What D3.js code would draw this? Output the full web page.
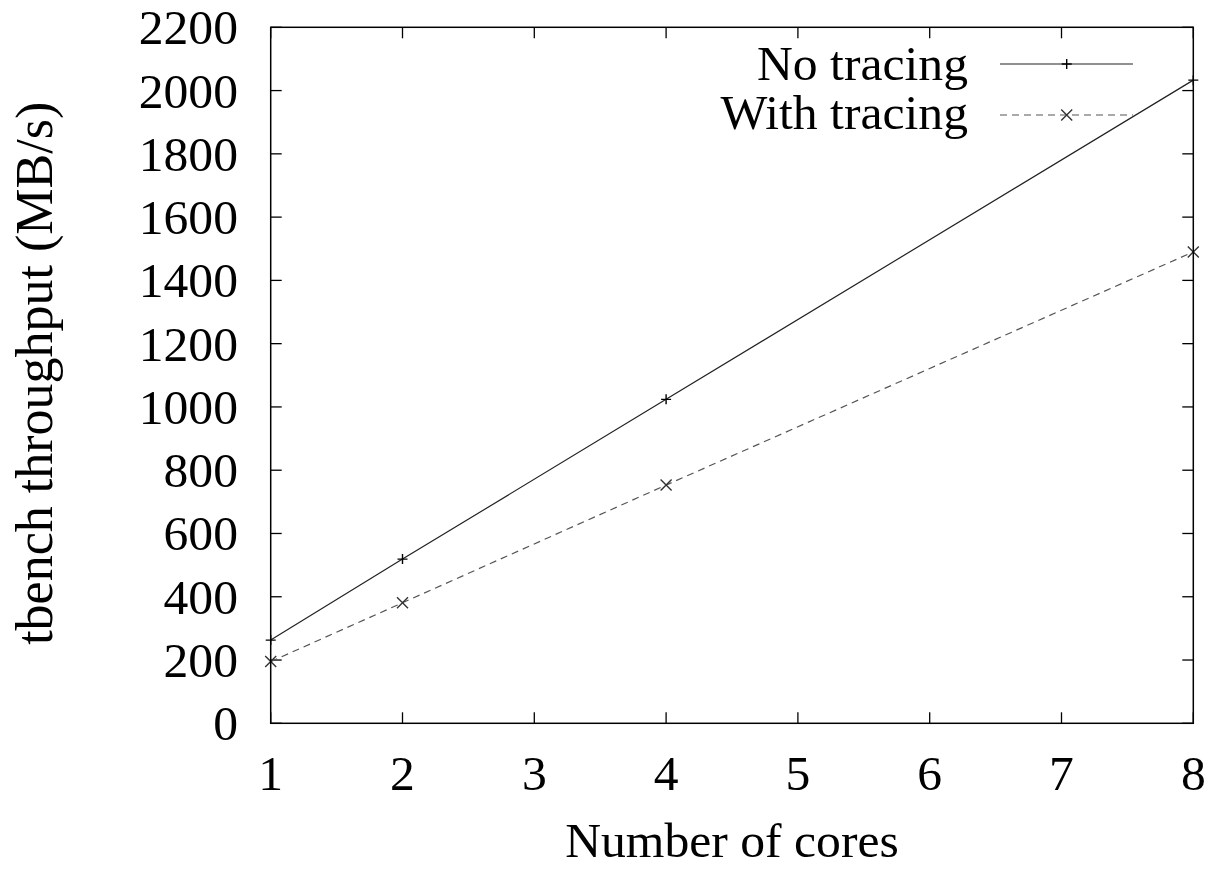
<!DOCTYPE html>
<html><head><meta charset="utf-8">
<script src="https://cdn.jsdelivr.net/npm/d3@7"></script>
<style>html,body{margin:0;padding:0;background:#fff;}svg{display:block;}</style>
</head><body>
<svg id="c" width="1213" height="869"></svg>
<script>
const cores = [1, 2, 4, 8];
const noTracing = [263, 519, 1024, 2033];
const withTracing = [195, 381, 753, 1490];
const seriesNames = ["No tracing", "With tracing"];
const xTicks = [1, 2, 3, 4, 5, 6, 7, 8];
const yTicks = [0, 200, 400, 600, 800, 1000, 1200, 1400, 1600, 1800, 2000, 2200];
const xTitle = "Number of cores";
const yTitle = "tbench throughput (MB/s)";

const svg = d3.select("#c");
const L = 270.7, R = 1193.3, T = 27.3, B = 723.3;
const x = d3.scaleLinear().domain([1, 8]).range([L, R]);
const y = d3.scaleLinear().domain([0, 2200]).range([B, T]);
const font = "'Liberation Serif','Times New Roman',serif";
const fs = 48;
const sx = 1.035;

function stext(g, tx, ty, str, anchor) {
  return g.append("text")
    .attr("transform", `translate(${tx},${ty}) scale(${sx},1)`)
    .attr("text-anchor", anchor)
    .attr("font-family", font).attr("font-size", fs).attr("fill", "#000")
    .text(str);
}

// ticks (inward, mirrored)
const tl = 11;
const tg = svg.append("g").attr("stroke", "#000").attr("stroke-width", 1.3);
xTicks.forEach(v => {
  tg.append("line").attr("x1", x(v)).attr("x2", x(v)).attr("y1", B).attr("y2", B - tl);
  tg.append("line").attr("x1", x(v)).attr("x2", x(v)).attr("y1", T).attr("y2", T + tl);
});
yTicks.forEach(v => {
  tg.append("line").attr("x1", L).attr("x2", L + tl).attr("y1", y(v)).attr("y2", y(v));
  tg.append("line").attr("x1", R).attr("x2", R - tl).attr("y1", y(v)).attr("y2", y(v));
});

// tick labels
const lg = svg.append("g");
yTicks.forEach(v => stext(lg, 238, y(v) + 17, String(v), "end"));
xTicks.forEach(v => stext(lg, x(v), 790, String(v), "middle"));

// axis titles
stext(lg, (L + R) / 2, 857, xTitle, "middle");
lg.append("text")
  .attr("transform", `translate(52,${(T + B) / 2 - 2}) rotate(-90)`)
  .attr("text-anchor", "middle")
  .attr("font-family", font).attr("font-size", 52).attr("fill", "#000")
  .text(yTitle);

// series
const line = d3.line().x(d => x(d[0])).y(d => y(d[1]));
const s1 = cores.map((c, i) => [c, noTracing[i]]);
const s2 = cores.map((c, i) => [c, withTracing[i]]);
const plot = svg.append("g");
plot.append("path").datum(s1).attr("d", line).attr("fill", "none").attr("stroke", "#222").attr("stroke-width", 1.2);
plot.append("path").datum(s2).attr("d", line).attr("fill", "none").attr("stroke", "#555").attr("stroke-width", 1.2).attr("stroke-dasharray", "7,5");

function plus(g, cx, cy, col) {
  const h = 5;
  g.append("path").attr("d", `M${cx - h},${cy}H${cx + h}M${cx},${cy - h}V${cy + h}`).attr("stroke", col).attr("stroke-width", 1.4).attr("fill", "none");
}
function cross(g, cx, cy, col) {
  const h = 5.5;
  g.append("path").attr("d", `M${cx - h},${cy - h}L${cx + h},${cy + h}M${cx - h},${cy + h}L${cx + h},${cy - h}`).attr("stroke", col).attr("stroke-width", 1.4).attr("fill", "none");
}
s1.forEach(d => plus(plot, x(d[0]), y(d[1]), "#000"));
s2.forEach(d => cross(plot, x(d[0]), y(d[1]), "#333"));

// legend
const leg = svg.append("g");
const ly = [64, 115];
stext(leg, 968, 80, seriesNames[0], "end");
stext(leg, 968, 129, seriesNames[1], "end");
leg.append("line").attr("x1", 1000).attr("x2", 1133).attr("y1", ly[0]).attr("y2", ly[0]).attr("stroke", "#222").attr("stroke-width", 1.2);
leg.append("line").attr("x1", 1000).attr("x2", 1133).attr("y1", ly[1]).attr("y2", ly[1]).attr("stroke", "#555").attr("stroke-width", 1.2).attr("stroke-dasharray", "7,5");
plus(leg, 1066.7, ly[0], "#000");
cross(leg, 1066.7, ly[1], "#333");

// border
svg.append("rect").attr("x", L).attr("y", T).attr("width", R - L).attr("height", B - T)
  .attr("fill", "none").attr("stroke", "#000").attr("stroke-width", 1.5);
</script>
</body></html>
